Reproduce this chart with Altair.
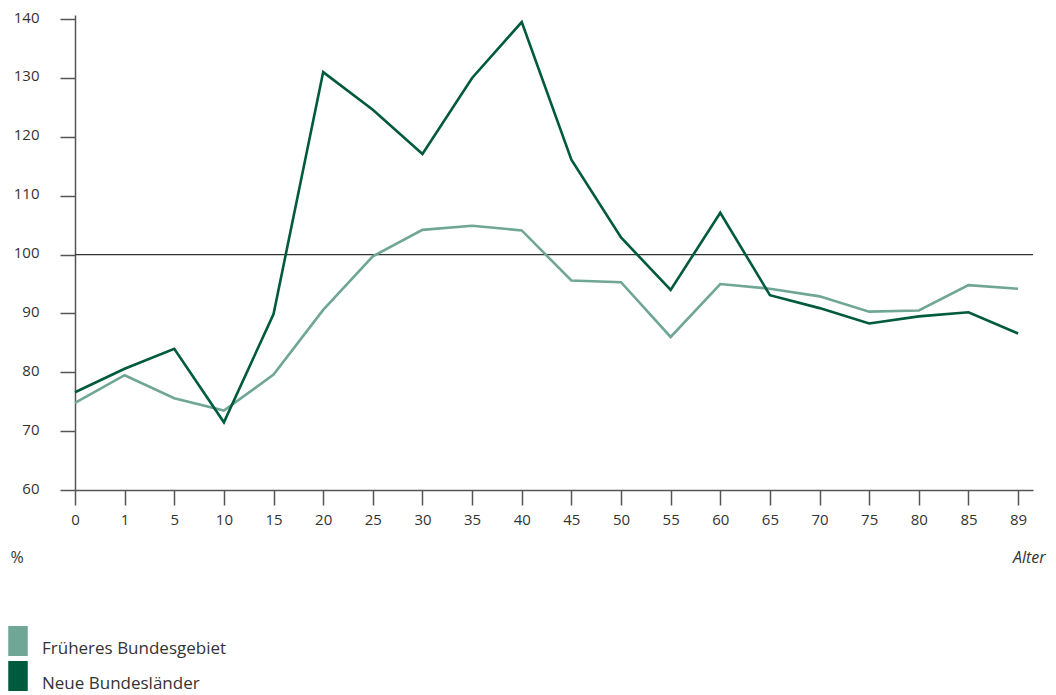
import altair as alt
import pandas as pd

ages = ["0", "1", "5", "10", "15", "20", "25", "30", "35", "40", "45", "50",
        "55", "60", "65", "70", "75", "80", "85", "89"]
frueher = [74.8, 79.5, 75.6, 73.5, 79.6, 90.6, 99.7, 104.2, 104.9, 104.1, 95.6, 95.3,
           86.0, 95.0, 94.2, 92.9, 90.3, 90.5, 94.8, 94.2]
neue = [76.6, 80.6, 84.0, 71.5, 89.9, 131.0, 124.6, 117.1, 130.0, 139.5, 116.1, 102.9,
        94.0, 107.1, 93.1, 90.9, 88.3, 89.5, 90.2, 86.6]
series = ["Früheres Bundesgebiet", "Neue Bundesländer"]
colors = ["#6fa696", "#005a3d"]
reference = [100]

rows = []
for a, v in zip(ages, frueher):
    rows.append({"Alter": a, "Wert": v, "Gebiet": series[0]})
for a, v in zip(ages, neue):
    rows.append({"Alter": a, "Wert": v, "Gebiet": series[1]})
df = pd.DataFrame(rows)
ref_df = pd.DataFrame({"ref": reference})
legend_df = pd.DataFrame({"Legende": series})

FONT = "Open Sans"
AXIS_COLOR = "#555555"

x_enc = alt.X(
    "Alter:N",
    sort=ages,
    scale=alt.Scale(type="point", padding=0.15, align=0),
    axis=alt.Axis(
        title="Alter",
        titleFontStyle="italic",
        titleFontWeight="normal",
        titleFontSize=16,
        titleColor="#333333",
        titleFont=FONT,
        titleAnchor="end",
        titleAlign="right",
        titleBaseline="alphabetic",
        titleX=970,
        titleY=72,
        labelAngle=0,
        labelFont=FONT,
        labelFontSize=15,
        labelColor="#333333",
        labelPadding=7,
        tickSize=15,
        tickColor=AXIS_COLOR,
        tickWidth=1.5,
        domainColor=AXIS_COLOR,
        domainWidth=1.5,
        grid=False,
    ),
)

y_enc = alt.Y(
    "Wert:Q",
    scale=alt.Scale(domain=[60, 140.7], nice=False, zero=False),
    axis=alt.Axis(
        title="%",
        titleAngle=0,
        titleFont=FONT,
        titleFontWeight="normal",
        titleFontSize=16,
        titleColor="#333333",
        titleAlign="left",
        titleBaseline="alphabetic",
        titleX=-65,
        titleY=547,
        values=[60, 70, 80, 90, 100, 110, 120, 130, 140],
        labelFont=FONT,
        labelFontSize=15,
        labelColor="#333333",
        labelPadding=21,
        labelBaseline="alphabetic",
        labelOffset=3,
        tickSize=15,
        tickColor=AXIS_COLOR,
        tickWidth=1.5,
        domainColor=AXIS_COLOR,
        domainWidth=1.5,
        grid=False,
    ),
)

lines = alt.Chart(df).mark_line(strokeWidth=2.6, interpolate="linear").encode(
    x=x_enc,
    y=y_enc,
    color=alt.Color(
        "Gebiet:N",
        sort=series,
        scale=alt.Scale(domain=series, range=colors),
        legend=None,
    ),
)

legend_pts = alt.Chart(legend_df).mark_point(filled=True, size=0, strokeWidth=0).encode(
    fill=alt.Fill(
        "Legende:N",
        sort=series,
        scale=alt.Scale(domain=series, range=colors),
        legend=alt.Legend(
            title=None,
            orient="none",
            legendX=-72,
            legendY=611,
            padding=0,
            symbolType="M-0.65,-1H0.65V1H-0.65Z",
            symbolSize=900,
            symbolStrokeWidth=0,
            symbolOpacity=1,
            rowPadding=4,
            labelFont=FONT,
            labelFontSize=17,
            labelColor="#333333",
            labelBaseline="top",
            labelOffset=9,
            labelLimit=400,
        ),
    ),
)

rule = alt.Chart(ref_df).mark_rule(color="#333333", strokeWidth=1.3).encode(
    y=alt.Y("ref:Q")
)

chart = alt.layer(rule, lines, legend_pts).resolve_scale(fill="independent").properties(
    width=958,
    height=475,
    padding={"left": 67, "top": 7, "right": 15, "bottom": 205},
    autosize=alt.AutoSizeParams(type="none"),
).configure_view(stroke=None)

chart.save("out.html", embed_options={"renderer": "svg", "actions": False})
